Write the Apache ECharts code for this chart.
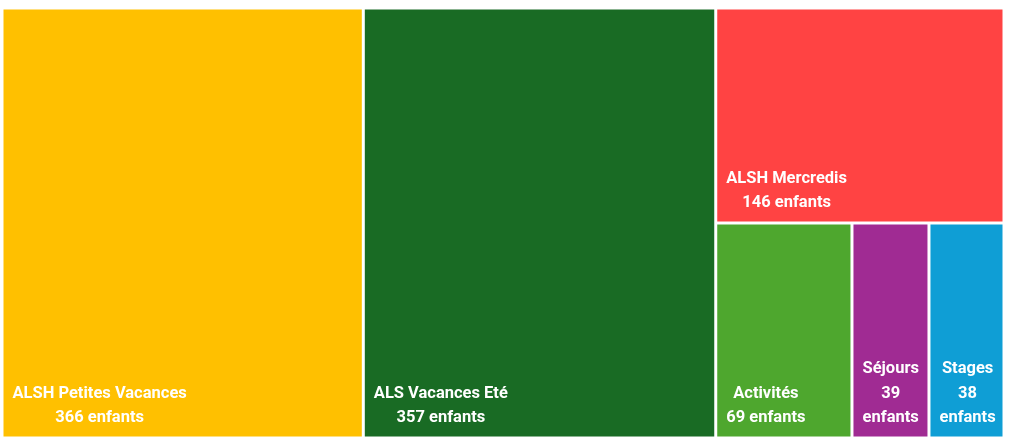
<!DOCTYPE html>
<html>
<head>
<meta charset="utf-8">
<script src="https://cdn.jsdelivr.net/npm/echarts@6/dist/echarts.min.js"></script>
<style>
html,body{margin:0;padding:0;background:#fff;}
#c{width:1010px;height:439px;}
</style>
</head>
<body>
<div id="c"></div>
<script>
// ---- data ----
const categories = ['ALSH Petites Vacances', 'ALS Vacances Eté', 'ALSH Mercredis', 'Activités', 'Séjours', 'Stages'];
const values = [366, 357, 146, 69, 39, 38];
const unitLabel = 'enfants';
const palette = ['#FFC000', '#196B24', '#FF4343', '#4EA72E', '#A02B93', '#0F9ED5'];

function leaf(i) {
  return { name: categories[i], value: values[i], itemStyle: { color: palette[i] } };
}
// grouping only guides the squarified layout so it follows the reference arrangement
const treeData = [
  leaf(0),
  leaf(1),
  { name: 'g1', children: [
      leaf(2),
      { name: 'g2', children: [
          { name: 'g3', children: [leaf(3), leaf(4)] },
          leaf(5)
      ] }
  ] }
];

const chart = echarts.init(document.getElementById('c'), null, { renderer: 'canvas' });
chart.setOption({
  animation: false,
  series: [{
    type: 'treemap',
    left: 3.5, top: 9.5, width: 999, height: 427,
    roam: false,
    nodeClick: false,
    sort: false,
    breadcrumb: { show: false },
    squareRatio: 1.4,
    itemStyle: { borderWidth: 0, gapWidth: 3, borderColor: '#fff' },
    upperLabel: { show: false },
    label: {
      show: true,
      position: 'insideBottomLeft',
      color: '#fff',
      fontFamily: 'Roboto',
      fontWeight: 'bold',
      fontSize: 16.5,
      lineHeight: 24.5,
      padding: [0, 4, 0, 4],
      overflow: 'none',
      formatter: function (p) {
        return p.value < 50
          ? p.name + '\n' + p.value + '\n' + unitLabel
          : p.name + '\n' + p.value + ' ' + unitLabel;
      }
    },
    labelLayout: function (p) {
      const r = p.rect, lr = p.labelRect;
      return {
        x: r.x + 5 + lr.width / 2,
        y: r.y + r.height - 6,
        align: 'center',
        verticalAlign: 'bottom'
      };
    },
    data: treeData
  }]
});
</script>
</body>
</html>
